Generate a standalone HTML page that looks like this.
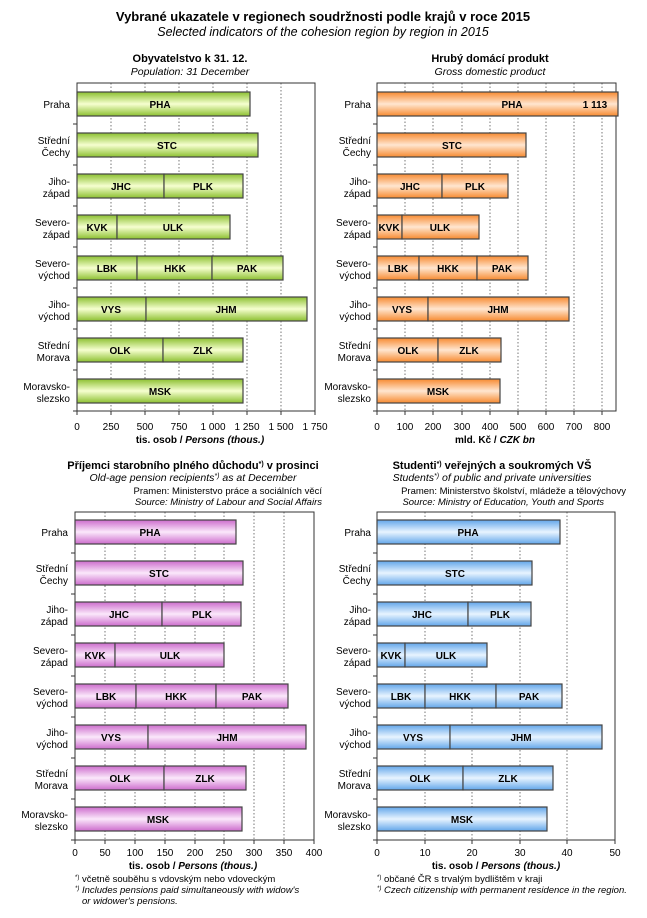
<!DOCTYPE html>
<html><head><meta charset="utf-8"><style>
body{margin:0;background:#fff}
svg{display:block;font-family:"Liberation Sans",Arial,sans-serif}
.t{font-weight:bold;font-size:11px;text-anchor:middle}
.s{font-style:italic;font-size:10.5px;text-anchor:middle}
.l{font-size:10px;text-anchor:end}
.b{font-size:10px;font-weight:bold;text-anchor:middle}
.k{font-size:10px;text-anchor:middle}
.g{stroke:#555;stroke-dasharray:1.5 2;stroke-width:0.8}
.tk{stroke:#333;stroke-width:1}
.bar rect{stroke:#444;stroke-width:1.2}
.n{font-size:9.5px}
</style></head><body>
<svg width="647" height="918" viewBox="0 0 647 918">
<defs>
<linearGradient id="gr" x1="0" y1="0" x2="0" y2="1"><stop offset="0" stop-color="#8cc030"/><stop offset="0.5" stop-color="#f6ffd0"/><stop offset="1" stop-color="#8cc030"/></linearGradient>
<linearGradient id="or" x1="0" y1="0" x2="0" y2="1"><stop offset="0" stop-color="#f78a30"/><stop offset="0.5" stop-color="#ffe6d0"/><stop offset="1" stop-color="#f78a30"/></linearGradient>
<linearGradient id="pu" x1="0" y1="0" x2="0" y2="1"><stop offset="0" stop-color="#cc6ccc"/><stop offset="0.5" stop-color="#fbe8fb"/><stop offset="1" stop-color="#cc6ccc"/></linearGradient>
<linearGradient id="bl" x1="0" y1="0" x2="0" y2="1"><stop offset="0" stop-color="#62a6ea"/><stop offset="0.5" stop-color="#e8f4ff"/><stop offset="1" stop-color="#62a6ea"/></linearGradient>
</defs>
<text x="323" y="21" style="font-weight:bold;font-size:13px;text-anchor:middle">Vybrané ukazatele v regionech soudržnosti podle krajů v roce 2015</text>
<text x="323" y="36" style="font-style:italic;font-size:12.5px;text-anchor:middle">Selected indicators of the cohesion region by region in 2015</text>

<!-- Chart 1 -->
<text class="t" x="190" y="62">Obyvatelstvo k 31. 12.</text>
<text class="s" x="190" y="75">Population: 31 December</text>
<g class="g"><line x1="111" y1="83" x2="111" y2="411"/><line x1="145" y1="83" x2="145" y2="411"/><line x1="179" y1="83" x2="179" y2="411"/><line x1="213" y1="83" x2="213" y2="411"/><line x1="247" y1="83" x2="247" y2="411"/><line x1="281" y1="83" x2="281" y2="411"/></g>
<rect x="77" y="83" width="238" height="328" fill="none" stroke="#333"/>
<g class="tk"><line x1="73" y1="124" x2="77" y2="124"/><line x1="73" y1="165" x2="77" y2="165"/><line x1="73" y1="206" x2="77" y2="206"/><line x1="73" y1="247" x2="77" y2="247"/><line x1="73" y1="288" x2="77" y2="288"/><line x1="73" y1="329" x2="77" y2="329"/><line x1="73" y1="370" x2="77" y2="370"/><line x1="73" y1="411" x2="77" y2="411"/>
<line x1="77" y1="411" x2="77" y2="415"/><line x1="111" y1="411" x2="111" y2="415"/><line x1="145" y1="411" x2="145" y2="415"/><line x1="179" y1="411" x2="179" y2="415"/><line x1="213" y1="411" x2="213" y2="415"/><line x1="247" y1="411" x2="247" y2="415"/><line x1="281" y1="411" x2="281" y2="415"/><line x1="315" y1="411" x2="315" y2="415"/></g>
<g class="bar" fill="url(#gr)">
<rect x="77" y="92" width="173" height="24"/>
<rect x="77" y="133" width="181" height="24"/>
<rect x="77" y="174" width="87" height="24"/><rect x="164" y="174" width="79" height="24"/>
<rect x="77" y="215" width="40" height="24"/><rect x="117" y="215" width="113" height="24"/>
<rect x="77" y="256" width="60" height="24"/><rect x="137" y="256" width="75" height="24"/><rect x="212" y="256" width="71" height="24"/>
<rect x="77" y="297" width="69" height="24"/><rect x="146" y="297" width="161" height="24"/>
<rect x="77" y="338" width="86" height="24"/><rect x="163" y="338" width="80" height="24"/>
<rect x="77" y="379" width="166" height="24"/>
</g>
<g class="b"><text x="160" y="108">PHA</text><text x="167" y="149">STC</text><text x="121" y="190">JHC</text><text x="203" y="190">PLK</text><text x="97" y="231">KVK</text><text x="173" y="231">ULK</text><text x="107" y="272">LBK</text><text x="175" y="272">HKK</text><text x="247" y="272">PAK</text><text x="111" y="313">VYS</text><text x="226" y="313">JHM</text><text x="120" y="354">OLK</text><text x="203" y="354">ZLK</text><text x="160" y="395">MSK</text></g>
<g class="l"><text x="70" y="108">Praha</text><text x="70" y="144">Střední</text><text x="70" y="156">Čechy</text><text x="70" y="185">Jiho-</text><text x="70" y="197">západ</text><text x="70" y="226">Severo-</text><text x="70" y="238">západ</text><text x="70" y="267">Severo-</text><text x="70" y="279">východ</text><text x="70" y="308">Jiho-</text><text x="70" y="320">východ</text><text x="70" y="349">Střední</text><text x="70" y="361">Morava</text><text x="70" y="390">Moravsko-</text><text x="70" y="402">slezsko</text></g>
<g class="k"><text x="77" y="430">0</text><text x="111" y="430">250</text><text x="145" y="430">500</text><text x="179" y="430">750</text><text x="213" y="430">1 000</text><text x="247" y="430">1 250</text><text x="281" y="430">1 500</text><text x="315" y="430">1 750</text></g>
<text x="200" y="443" style="font-size:10px;font-weight:bold;text-anchor:middle">tis. osob / <tspan font-style="italic">Persons (thous.)</tspan></text>

<!-- Chart 2 -->
<text class="t" x="490" y="62">Hrubý domácí produkt</text>
<text class="s" x="490" y="75">Gross domestic product</text>
<g class="g"><line x1="405" y1="83" x2="405" y2="411"/><line x1="433" y1="83" x2="433" y2="411"/><line x1="462" y1="83" x2="462" y2="411"/><line x1="490" y1="83" x2="490" y2="411"/><line x1="518" y1="83" x2="518" y2="411"/><line x1="546" y1="83" x2="546" y2="411"/><line x1="574" y1="83" x2="574" y2="411"/><line x1="602" y1="83" x2="602" y2="411"/></g>
<rect x="377" y="83" width="239" height="328" fill="none" stroke="#333"/>
<g class="tk"><line x1="373" y1="124" x2="377" y2="124"/><line x1="373" y1="165" x2="377" y2="165"/><line x1="373" y1="206" x2="377" y2="206"/><line x1="373" y1="247" x2="377" y2="247"/><line x1="373" y1="288" x2="377" y2="288"/><line x1="373" y1="329" x2="377" y2="329"/><line x1="373" y1="370" x2="377" y2="370"/><line x1="373" y1="411" x2="377" y2="411"/>
<line x1="377" y1="411" x2="377" y2="415"/><line x1="405" y1="411" x2="405" y2="415"/><line x1="433" y1="411" x2="433" y2="415"/><line x1="462" y1="411" x2="462" y2="415"/><line x1="490" y1="411" x2="490" y2="415"/><line x1="518" y1="411" x2="518" y2="415"/><line x1="546" y1="411" x2="546" y2="415"/><line x1="574" y1="411" x2="574" y2="415"/><line x1="602" y1="411" x2="602" y2="415"/></g>
<g class="bar" fill="url(#or)">
<rect x="377" y="92" width="241" height="24"/>
<rect x="377" y="133" width="149" height="24"/>
<rect x="377" y="174" width="65" height="24"/><rect x="442" y="174" width="66" height="24"/>
<rect x="377" y="215" width="25" height="24"/><rect x="402" y="215" width="77" height="24"/>
<rect x="377" y="256" width="42" height="24"/><rect x="419" y="256" width="58" height="24"/><rect x="477" y="256" width="51" height="24"/>
<rect x="377" y="297" width="51" height="24"/><rect x="428" y="297" width="141" height="24"/>
<rect x="377" y="338" width="61" height="24"/><rect x="438" y="338" width="63" height="24"/>
<rect x="377" y="379" width="123" height="24"/>
</g>
<g class="b"><text x="512" y="108">PHA</text><text x="595" y="108">1 113</text><text x="452" y="149">STC</text><text x="410" y="190">JHC</text><text x="475" y="190">PLK</text><text x="389" y="231">KVK</text><text x="440" y="231">ULK</text><text x="398" y="272">LBK</text><text x="448" y="272">HKK</text><text x="502" y="272">PAK</text><text x="402" y="313">VYS</text><text x="498" y="313">JHM</text><text x="408" y="354">OLK</text><text x="469" y="354">ZLK</text><text x="438" y="395">MSK</text></g>
<g class="l"><text x="371" y="108">Praha</text><text x="371" y="144">Střední</text><text x="371" y="156">Čechy</text><text x="371" y="185">Jiho-</text><text x="371" y="197">západ</text><text x="371" y="226">Severo-</text><text x="371" y="238">západ</text><text x="371" y="267">Severo-</text><text x="371" y="279">východ</text><text x="371" y="308">Jiho-</text><text x="371" y="320">východ</text><text x="371" y="349">Střední</text><text x="371" y="361">Morava</text><text x="371" y="390">Moravsko-</text><text x="371" y="402">slezsko</text></g>
<g class="k"><text x="377" y="430">0</text><text x="405" y="430">100</text><text x="433" y="430">200</text><text x="462" y="430">300</text><text x="490" y="430">400</text><text x="518" y="430">500</text><text x="546" y="430">600</text><text x="574" y="430">700</text><text x="602" y="430">800</text></g>
<text x="495" y="443" style="font-size:10px;font-weight:bold;text-anchor:middle">mld. Kč / <tspan font-style="italic">CZK bn</tspan></text>

<!-- Chart 3 -->
<text class="t" x="193" y="469">Příjemci starobního plného důchodu<tspan font-size="7" dy="-3">*)</tspan><tspan dy="3"> v prosinci</tspan></text>
<text class="s" x="193" y="481">Old-age pension recipients<tspan font-size="7" dy="-3">*)</tspan><tspan dy="3"> as at December</tspan></text>
<text x="322" y="494" style="font-size:9.5px;text-anchor:end">Pramen: Ministerstvo práce a sociálních věcí</text>
<text x="322" y="505" style="font-size:9.5px;font-style:italic;text-anchor:end">Source: Ministry of Labour and Social Affairs</text>
<g class="g"><line x1="105" y1="512" x2="105" y2="840"/><line x1="135" y1="512" x2="135" y2="840"/><line x1="165" y1="512" x2="165" y2="840"/><line x1="195" y1="512" x2="195" y2="840"/><line x1="224" y1="512" x2="224" y2="840"/><line x1="254" y1="512" x2="254" y2="840"/><line x1="284" y1="512" x2="284" y2="840"/></g>
<rect x="75" y="512" width="239" height="328" fill="none" stroke="#333"/>
<g class="tk"><line x1="71" y1="553" x2="75" y2="553"/><line x1="71" y1="594" x2="75" y2="594"/><line x1="71" y1="635" x2="75" y2="635"/><line x1="71" y1="676" x2="75" y2="676"/><line x1="71" y1="717" x2="75" y2="717"/><line x1="71" y1="758" x2="75" y2="758"/><line x1="71" y1="799" x2="75" y2="799"/><line x1="71" y1="840" x2="75" y2="840"/>
<line x1="75" y1="840" x2="75" y2="844"/><line x1="105" y1="840" x2="105" y2="844"/><line x1="135" y1="840" x2="135" y2="844"/><line x1="165" y1="840" x2="165" y2="844"/><line x1="195" y1="840" x2="195" y2="844"/><line x1="224" y1="840" x2="224" y2="844"/><line x1="254" y1="840" x2="254" y2="844"/><line x1="284" y1="840" x2="284" y2="844"/><line x1="314" y1="840" x2="314" y2="844"/></g>
<g class="bar" fill="url(#pu)">
<rect x="75" y="520" width="161" height="24"/>
<rect x="75" y="561" width="168" height="24"/>
<rect x="75" y="602" width="87" height="24"/><rect x="162" y="602" width="79" height="24"/>
<rect x="75" y="643" width="40" height="24"/><rect x="115" y="643" width="109" height="24"/>
<rect x="75" y="684" width="61" height="24"/><rect x="136" y="684" width="80" height="24"/><rect x="216" y="684" width="72" height="24"/>
<rect x="75" y="725" width="73" height="24"/><rect x="148" y="725" width="158" height="24"/>
<rect x="75" y="766" width="89" height="24"/><rect x="164" y="766" width="82" height="24"/>
<rect x="75" y="807" width="167" height="24"/>
</g>
<g class="b"><text x="150" y="536">PHA</text><text x="159" y="577">STC</text><text x="119" y="618">JHC</text><text x="202" y="618">PLK</text><text x="95" y="659">KVK</text><text x="170" y="659">ULK</text><text x="106" y="700">LBK</text><text x="176" y="700">HKK</text><text x="252" y="700">PAK</text><text x="111" y="741">VYS</text><text x="227" y="741">JHM</text><text x="120" y="782">OLK</text><text x="205" y="782">ZLK</text><text x="158" y="823">MSK</text></g>
<g class="l"><text x="68" y="536">Praha</text><text x="68" y="572">Střední</text><text x="68" y="584">Čechy</text><text x="68" y="613">Jiho-</text><text x="68" y="625">západ</text><text x="68" y="654">Severo-</text><text x="68" y="666">západ</text><text x="68" y="695">Severo-</text><text x="68" y="707">východ</text><text x="68" y="736">Jiho-</text><text x="68" y="748">východ</text><text x="68" y="777">Střední</text><text x="68" y="789">Morava</text><text x="68" y="818">Moravsko-</text><text x="68" y="830">slezsko</text></g>
<g class="k"><text x="75" y="856">0</text><text x="105" y="856">50</text><text x="135" y="856">100</text><text x="165" y="856">150</text><text x="195" y="856">200</text><text x="224" y="856">250</text><text x="254" y="856">300</text><text x="284" y="856">350</text><text x="314" y="856">400</text></g>
<text x="193" y="869" style="font-size:10px;font-weight:bold;text-anchor:middle">tis. osob / <tspan font-style="italic">Persons (thous.)</tspan></text>
<text class="n" x="75" y="882"><tspan font-size="6" dy="-3">*)</tspan><tspan dy="3"> včetně souběhu s vdovským nebo vdoveckým</tspan></text>
<text class="n" x="75" y="893" font-style="italic"><tspan font-size="6" dy="-3">*)</tspan><tspan dy="3"> Includes pensions paid simultaneously with widow's</tspan></text>
<text class="n" x="82" y="904" font-style="italic">or widower's pensions.</text>

<!-- Chart 4 -->
<text class="t" x="492" y="469">Studenti<tspan font-size="7" dy="-3">*)</tspan><tspan dy="3"> veřejných a soukromých VŠ</tspan></text>
<text class="s" x="492" y="481">Students<tspan font-size="7" dy="-3">*)</tspan><tspan dy="3"> of public and private universities</tspan></text>
<text x="626" y="494" style="font-size:9.5px;text-anchor:end">Pramen: Ministerstvo školství, mládeže a tělovýchovy</text>
<text x="604" y="505" style="font-size:9.5px;font-style:italic;text-anchor:end">Source: Ministry of Education, Youth and Sports</text>
<g class="g"><line x1="425" y1="512" x2="425" y2="840"/><line x1="472" y1="512" x2="472" y2="840"/><line x1="520" y1="512" x2="520" y2="840"/><line x1="567" y1="512" x2="567" y2="840"/></g>
<rect x="377" y="512" width="238" height="328" fill="none" stroke="#333"/>
<g class="tk"><line x1="373" y1="553" x2="377" y2="553"/><line x1="373" y1="594" x2="377" y2="594"/><line x1="373" y1="635" x2="377" y2="635"/><line x1="373" y1="676" x2="377" y2="676"/><line x1="373" y1="717" x2="377" y2="717"/><line x1="373" y1="758" x2="377" y2="758"/><line x1="373" y1="799" x2="377" y2="799"/><line x1="373" y1="840" x2="377" y2="840"/>
<line x1="377" y1="840" x2="377" y2="844"/><line x1="425" y1="840" x2="425" y2="844"/><line x1="472" y1="840" x2="472" y2="844"/><line x1="520" y1="840" x2="520" y2="844"/><line x1="567" y1="840" x2="567" y2="844"/><line x1="615" y1="840" x2="615" y2="844"/></g>
<g class="bar" fill="url(#bl)">
<rect x="377" y="520" width="183" height="24"/>
<rect x="377" y="561" width="155" height="24"/>
<rect x="377" y="602" width="91" height="24"/><rect x="468" y="602" width="63" height="24"/>
<rect x="377" y="643" width="28" height="24"/><rect x="405" y="643" width="82" height="24"/>
<rect x="377" y="684" width="48" height="24"/><rect x="425" y="684" width="71" height="24"/><rect x="496" y="684" width="66" height="24"/>
<rect x="377" y="725" width="73" height="24"/><rect x="450" y="725" width="152" height="24"/>
<rect x="377" y="766" width="86" height="24"/><rect x="463" y="766" width="90" height="24"/>
<rect x="377" y="807" width="170" height="24"/>
</g>
<g class="b"><text x="468" y="536">PHA</text><text x="455" y="577">STC</text><text x="422" y="618">JHC</text><text x="500" y="618">PLK</text><text x="391" y="659">KVK</text><text x="446" y="659">ULK</text><text x="401" y="700">LBK</text><text x="460" y="700">HKK</text><text x="529" y="700">PAK</text><text x="413" y="741">VYS</text><text x="521" y="741">JHM</text><text x="420" y="782">OLK</text><text x="508" y="782">ZLK</text><text x="462" y="823">MSK</text></g>
<g class="l"><text x="371" y="536">Praha</text><text x="371" y="572">Střední</text><text x="371" y="584">Čechy</text><text x="371" y="613">Jiho-</text><text x="371" y="625">západ</text><text x="371" y="654">Severo-</text><text x="371" y="666">západ</text><text x="371" y="695">Severo-</text><text x="371" y="707">východ</text><text x="371" y="736">Jiho-</text><text x="371" y="748">východ</text><text x="371" y="777">Střední</text><text x="371" y="789">Morava</text><text x="371" y="818">Moravsko-</text><text x="371" y="830">slezsko</text></g>
<g class="k"><text x="377" y="856">0</text><text x="425" y="856">10</text><text x="472" y="856">20</text><text x="520" y="856">30</text><text x="567" y="856">40</text><text x="615" y="856">50</text></g>
<text x="496" y="869" style="font-size:10px;font-weight:bold;text-anchor:middle">tis. osob / <tspan font-style="italic">Persons (thous.)</tspan></text>
<text class="n" x="377" y="882"><tspan font-size="6" dy="-3">*)</tspan><tspan dy="3"> občané ČR s trvalým bydlištěm v kraji</tspan></text>
<text class="n" x="377" y="893" font-style="italic"><tspan font-size="6" dy="-3">*)</tspan><tspan dy="3"> Czech citizenship with permanent residence in the region.</tspan></text>
</svg>
</body></html>
